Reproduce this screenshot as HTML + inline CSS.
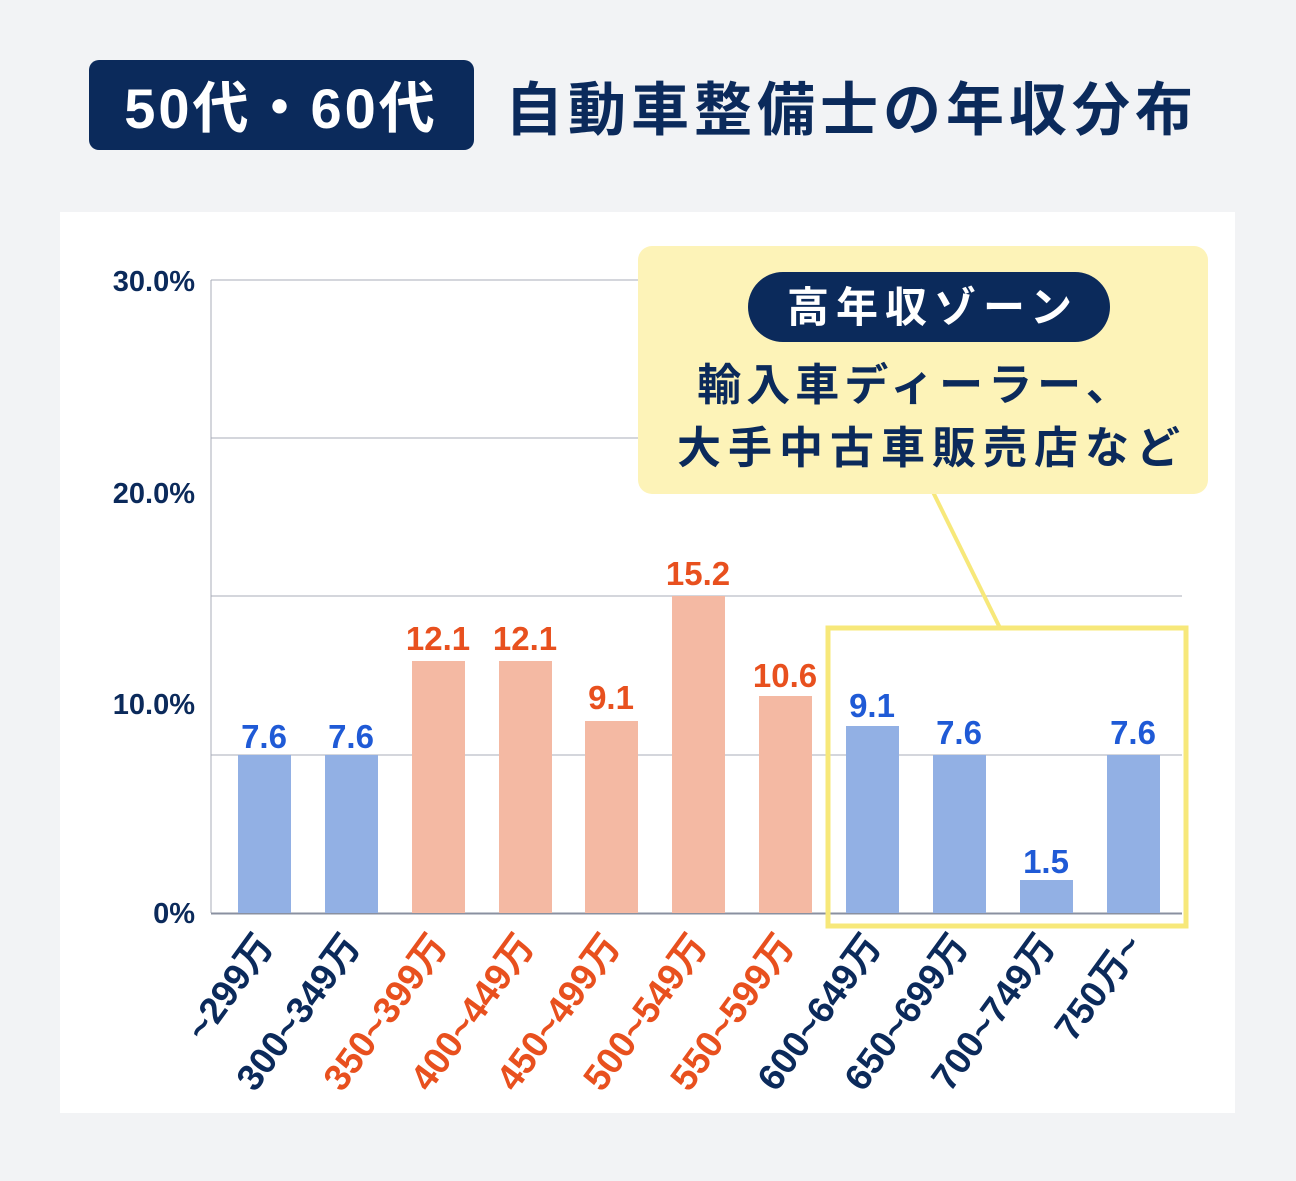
<!DOCTYPE html>
<html><head><meta charset="utf-8"><style>
body{margin:0;width:1296px;height:1176px;background:#f2f3f5;overflow:hidden}
</style></head><body>
<svg width="1296" height="1176" xmlns="http://www.w3.org/2000/svg" style="font-family:'Liberation Sans','Noto Sans CJK JP',sans-serif;font-weight:bold">
<rect x="89" y="60" width="385" height="90" rx="10" fill="#0b2a5b"/>
<text x="281" y="128" text-anchor="middle" fill="#fff" font-size="56" letter-spacing="3">50代・60代</text>
<text x="505" y="130" fill="#0b2a5b" font-size="58" letter-spacing="5">自動車整備士の年収分布</text>
<rect x="60" y="212" width="1175" height="901" fill="#fff"/>
<g stroke="#a8acb8" stroke-width="1">
<line x1="211" y1="280" x2="1182" y2="280"/><line x1="211" y1="438" x2="1182" y2="438"/>
<line x1="211" y1="596" x2="1182" y2="596"/><line x1="211" y1="755" x2="1182" y2="755"/>
<line x1="211" y1="280" x2="211" y2="913"/>
</g>
<line x1="211" y1="913.5" x2="1182" y2="913.5" stroke="#8a90a0" stroke-width="2"/>
<g fill="#0b2a5b" font-size="29" text-anchor="end">
<text x="195" y="291">30.0%</text><text x="195" y="503">20.0%</text><text x="195" y="714">10.0%</text><text x="195" y="923">0%</text>
</g>
<g>
<rect x="238" y="755" width="53" height="158" fill="#92b0e4"/>
<rect x="325" y="755" width="53" height="158" fill="#92b0e4"/>
<rect x="412" y="661" width="53" height="252" fill="#f4b9a3"/>
<rect x="499" y="661" width="53" height="252" fill="#f4b9a3"/>
<rect x="585" y="721" width="53" height="192" fill="#f4b9a3"/>
<rect x="672" y="596" width="53" height="317" fill="#f4b9a3"/>
<rect x="759" y="696" width="53" height="217" fill="#f4b9a3"/>
<rect x="846" y="726" width="53" height="187" fill="#92b0e4"/>
<rect x="933" y="755" width="53" height="158" fill="#92b0e4"/>
<rect x="1020" y="880" width="53" height="33" fill="#92b0e4"/>
<rect x="1107" y="755" width="53" height="158" fill="#92b0e4"/>
</g>
<g font-size="33" text-anchor="middle">
<text x="264" y="748" fill="#1f5ad6">7.6</text>
<text x="351" y="748" fill="#1f5ad6">7.6</text>
<text x="438" y="650" fill="#e8501e">12.1</text>
<text x="525" y="650" fill="#e8501e">12.1</text>
<text x="611" y="709" fill="#e8501e">9.1</text>
<text x="698" y="585" fill="#e8501e">15.2</text>
<text x="785" y="687" fill="#e8501e">10.6</text>
<text x="872" y="717" fill="#1f5ad6">9.1</text>
<text x="959" y="744" fill="#1f5ad6">7.6</text>
<text x="1046" y="873" fill="#1f5ad6">1.5</text>
<text x="1133" y="744" fill="#1f5ad6">7.6</text>
</g>
<g font-size="37" text-anchor="end">
<text transform="translate(275,946) rotate(-54)" fill="#0b2a5b">~299万</text>
<text transform="translate(362,946) rotate(-54)" fill="#0b2a5b">300~349万</text>
<text transform="translate(449,946) rotate(-54)" fill="#e8501e">350~399万</text>
<text transform="translate(536,946) rotate(-54)" fill="#e8501e">400~449万</text>
<text transform="translate(622,946) rotate(-54)" fill="#e8501e">450~499万</text>
<text transform="translate(709,946) rotate(-54)" fill="#e8501e">500~549万</text>
<text transform="translate(796,946) rotate(-54)" fill="#e8501e">550~599万</text>
<text transform="translate(883,946) rotate(-54)" fill="#0b2a5b">600~649万</text>
<text transform="translate(970,946) rotate(-54)" fill="#0b2a5b">650~699万</text>
<text transform="translate(1057,946) rotate(-54)" fill="#0b2a5b">700~749万</text>
<text transform="translate(1144,946) rotate(-54)" fill="#0b2a5b">750万~</text>
</g>
<rect x="828" y="628" width="358" height="298" fill="none" stroke="#f7e87a" stroke-width="5"/>
<line x1="933" y1="492" x2="1000" y2="628" stroke="#f7e87a" stroke-width="4"/>
<rect x="638" y="246" width="570" height="248" rx="14" fill="#fdf3b8"/>
<rect x="748" y="272" width="362" height="70" rx="35" fill="#0b2a5b"/>
<text x="933" y="322" text-anchor="middle" fill="#fff" font-size="42" letter-spacing="7">高年収ゾーン</text>
<text x="916" y="400" text-anchor="middle" fill="#0b2a5b" font-size="44" letter-spacing="5">輸入車ディーラー、</text>
<text x="932" y="463" text-anchor="middle" fill="#0b2a5b" font-size="44" letter-spacing="7">大手中古車販売店など</text>
</svg>
</body></html>
